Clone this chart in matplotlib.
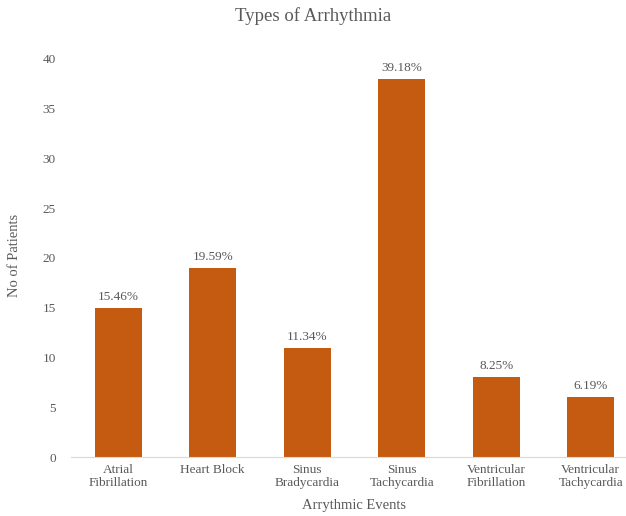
import matplotlib
matplotlib.use("Agg")
import matplotlib.pyplot as plt

categories = ["Atrial\nFibrillation", "Heart Block", "Sinus\nBradycardia",
              "Sinus\nTachycardia", "Ventricular\nFibrillation", "Ventricular\nTachycardia"]
patients = [15, 19, 11, 38, 8, 6]
percent_labels = ["15.46%", "19.59%", "11.34%", "39.18%", "8.25%", "6.19%"]
y_ticks = [0, 5, 10, 15, 20, 25, 30, 35, 40]

plt.rcParams["font.family"] = ["Liberation Serif", "DejaVu Serif"]
text_color = "#595959"
bar_color = "#C55A11"

fig = plt.figure(figsize=(6.26, 5.16), dpi=100)
ax = fig.add_axes([71 / 626, 59 / 516, 567 / 626, 398 / 516])

x = list(range(len(categories)))
bars = ax.bar(x, patients, width=0.5, color=bar_color, zorder=2)

for rect, lab in zip(bars, percent_labels):
    ax.text(rect.get_x() + rect.get_width() / 2, rect.get_height() + 0.5, lab,
            ha="center", va="bottom", fontsize=9.5, color=text_color)

ax.set_xlim(-0.5, 5.5)
ax.set_ylim(0, 40)
ax.set_yticks(y_ticks)
ax.set_xticks(x)
ax.set_xticklabels(categories, fontsize=9.5, color=text_color, linespacing=1.15)
ax.tick_params(axis="y", labelsize=9.5, labelcolor=text_color, length=0, pad=11)
ax.tick_params(axis="x", length=0, pad=5)

for side in ["top", "right", "left"]:
    ax.spines[side].set_visible(False)
ax.spines["bottom"].set_color("#D9D9D9")
ax.spines["bottom"].set_linewidth(0.8)

ax.set_xlabel("Arrythmic Events", fontsize=10.5, color=text_color)
ax.xaxis.set_label_coords(0.5, (457 - 505) / 398)
ax.xaxis.label.set_va("center")
ax.set_ylabel("No of Patients", fontsize=10.5, color=text_color)
ax.yaxis.set_label_coords((15 - 71) / 567, (457 - 255) / 398)
ax.yaxis.label.set_va("center")

fig.text(0.5, 1 - 16 / 516, "Types of Arrhythmia", ha="center", va="center",
         fontsize=13.5, color=text_color)

fig.savefig("out.png", dpi=100)
